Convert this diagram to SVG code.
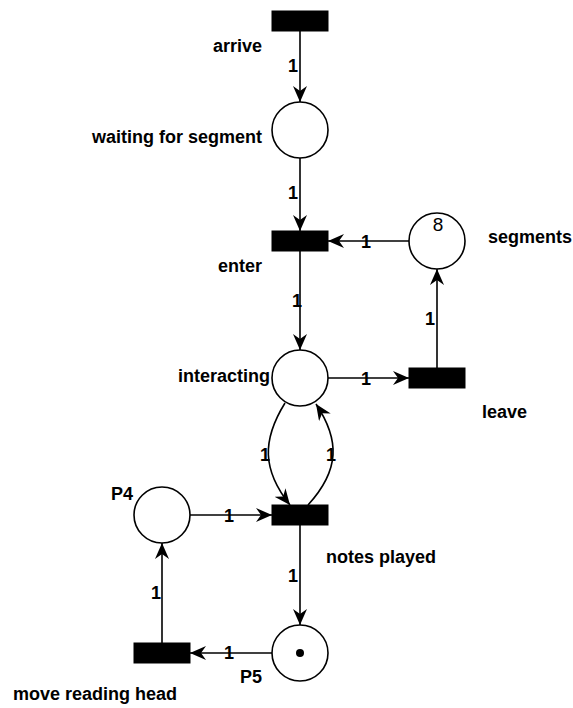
<svg xmlns="http://www.w3.org/2000/svg" width="573" height="708" viewBox="0 0 573 708">
<style>
.place{fill:#fff;stroke:#000;stroke-width:1.6}
.trans{fill:#000;stroke:#000;stroke-width:1}
.edge{fill:none;stroke:#000;stroke-width:1.6}
.lbl{font-family:"Liberation Sans",Arial,sans-serif;font-size:18px;font-weight:bold;fill:#000}
.w{font-family:"Liberation Sans",Arial,sans-serif;font-size:18px;font-weight:bold;fill:#000;text-anchor:middle;dominant-baseline:central}
.tok{font-family:"Liberation Sans",Arial,sans-serif;font-size:19px;fill:#000;text-anchor:middle}
</style>
<defs>
<marker id="arr" viewBox="0 0 16 14" refX="16" refY="7" markerWidth="16" markerHeight="14" markerUnits="userSpaceOnUse" orient="auto">
<path d="M0,0 L16,7 L0,14 L5,7 Z" fill="#000"/>
</marker>
</defs>
<g id="connectors">
<path class="edge" d="M300,31 L300,102" marker-end="url(#arr)"/>
<path class="edge" d="M300,158 L300,231" marker-end="url(#arr)"/>
<path class="edge" d="M409,241 L328,241" marker-end="url(#arr)"/>
<path class="edge" d="M300,251 L300,350" marker-end="url(#arr)"/>
<path class="edge" d="M328,378 L409,378" marker-end="url(#arr)"/>
<path class="edge" d="M437,368 L437,269" marker-end="url(#arr)"/>
<path class="edge" d="M285,403 C262,440 262,470 290,505" marker-end="url(#arr)"/>
<path class="edge" d="M308,505 C340,470 340,440 316,404" marker-end="url(#arr)"/>
<path class="edge" d="M190,515 L272,515" marker-end="url(#arr)"/>
<path class="edge" d="M300,525 L300,625" marker-end="url(#arr)"/>
<path class="edge" d="M272,653 L190,653" marker-end="url(#arr)"/>
<path class="edge" d="M162,643 L162,543" marker-end="url(#arr)"/>
<text class="w" x="293" y="66">1</text>
<text class="w" x="293" y="193">1</text>
<text class="w" x="366" y="242">1</text>
<text class="w" x="297" y="301">1</text>
<text class="w" x="366" y="379">1</text>
<text class="w" x="430" y="319">1</text>
<text class="w" x="265" y="455">1</text>
<text class="w" x="331" y="455">1</text>
<text class="w" x="229" y="516">1</text>
<text class="w" x="293" y="576">1</text>
<text class="w" x="229" y="653">1</text>
<text class="w" x="156" y="593">1</text>
</g>
<g id="arrive">
<rect class="trans" x="272" y="11" width="56" height="20"/>
<text class="lbl" x="262" y="52" text-anchor="end">arrive</text>
</g>
<g id="waiting">
<circle class="place" cx="300" cy="130" r="28"/>
<text class="lbl" x="262" y="143" text-anchor="end">waiting for segment</text>
</g>
<g id="enter">
<rect class="trans" x="272" y="231" width="56" height="20"/>
<text class="lbl" x="262" y="272" text-anchor="end">enter</text>
</g>
<g id="segments">
<circle class="place" cx="437" cy="241" r="28"/>
<text class="tok" x="438" y="231">8</text>
<text class="lbl" x="488" y="243">segments</text>
</g>
<g id="interacting">
<circle class="place" cx="300" cy="378" r="28"/>
<text class="lbl" x="270" y="382" text-anchor="end">interacting</text>
</g>
<g id="leave">
<rect class="trans" x="409" y="368" width="56" height="20"/>
<text class="lbl" x="482" y="418">leave</text>
</g>
<g id="notes-played">
<rect class="trans" x="272" y="505" width="56" height="20"/>
<text class="lbl" x="326" y="563">notes played</text>
</g>
<g id="P4">
<circle class="place" cx="162" cy="515" r="28"/>
<text class="lbl" x="133" y="500" text-anchor="end">P4</text>
</g>
<g id="P5">
<circle class="place" cx="300" cy="653" r="28"/>
<circle cx="300" cy="653" r="4" fill="#000"/>
<text class="lbl" x="262" y="683" text-anchor="end">P5</text>
</g>
<g id="move-reading-head">
<rect class="trans" x="134" y="643" width="56" height="20"/>
<text class="lbl" x="13" y="700">move reading head</text>
</g>
</svg>
